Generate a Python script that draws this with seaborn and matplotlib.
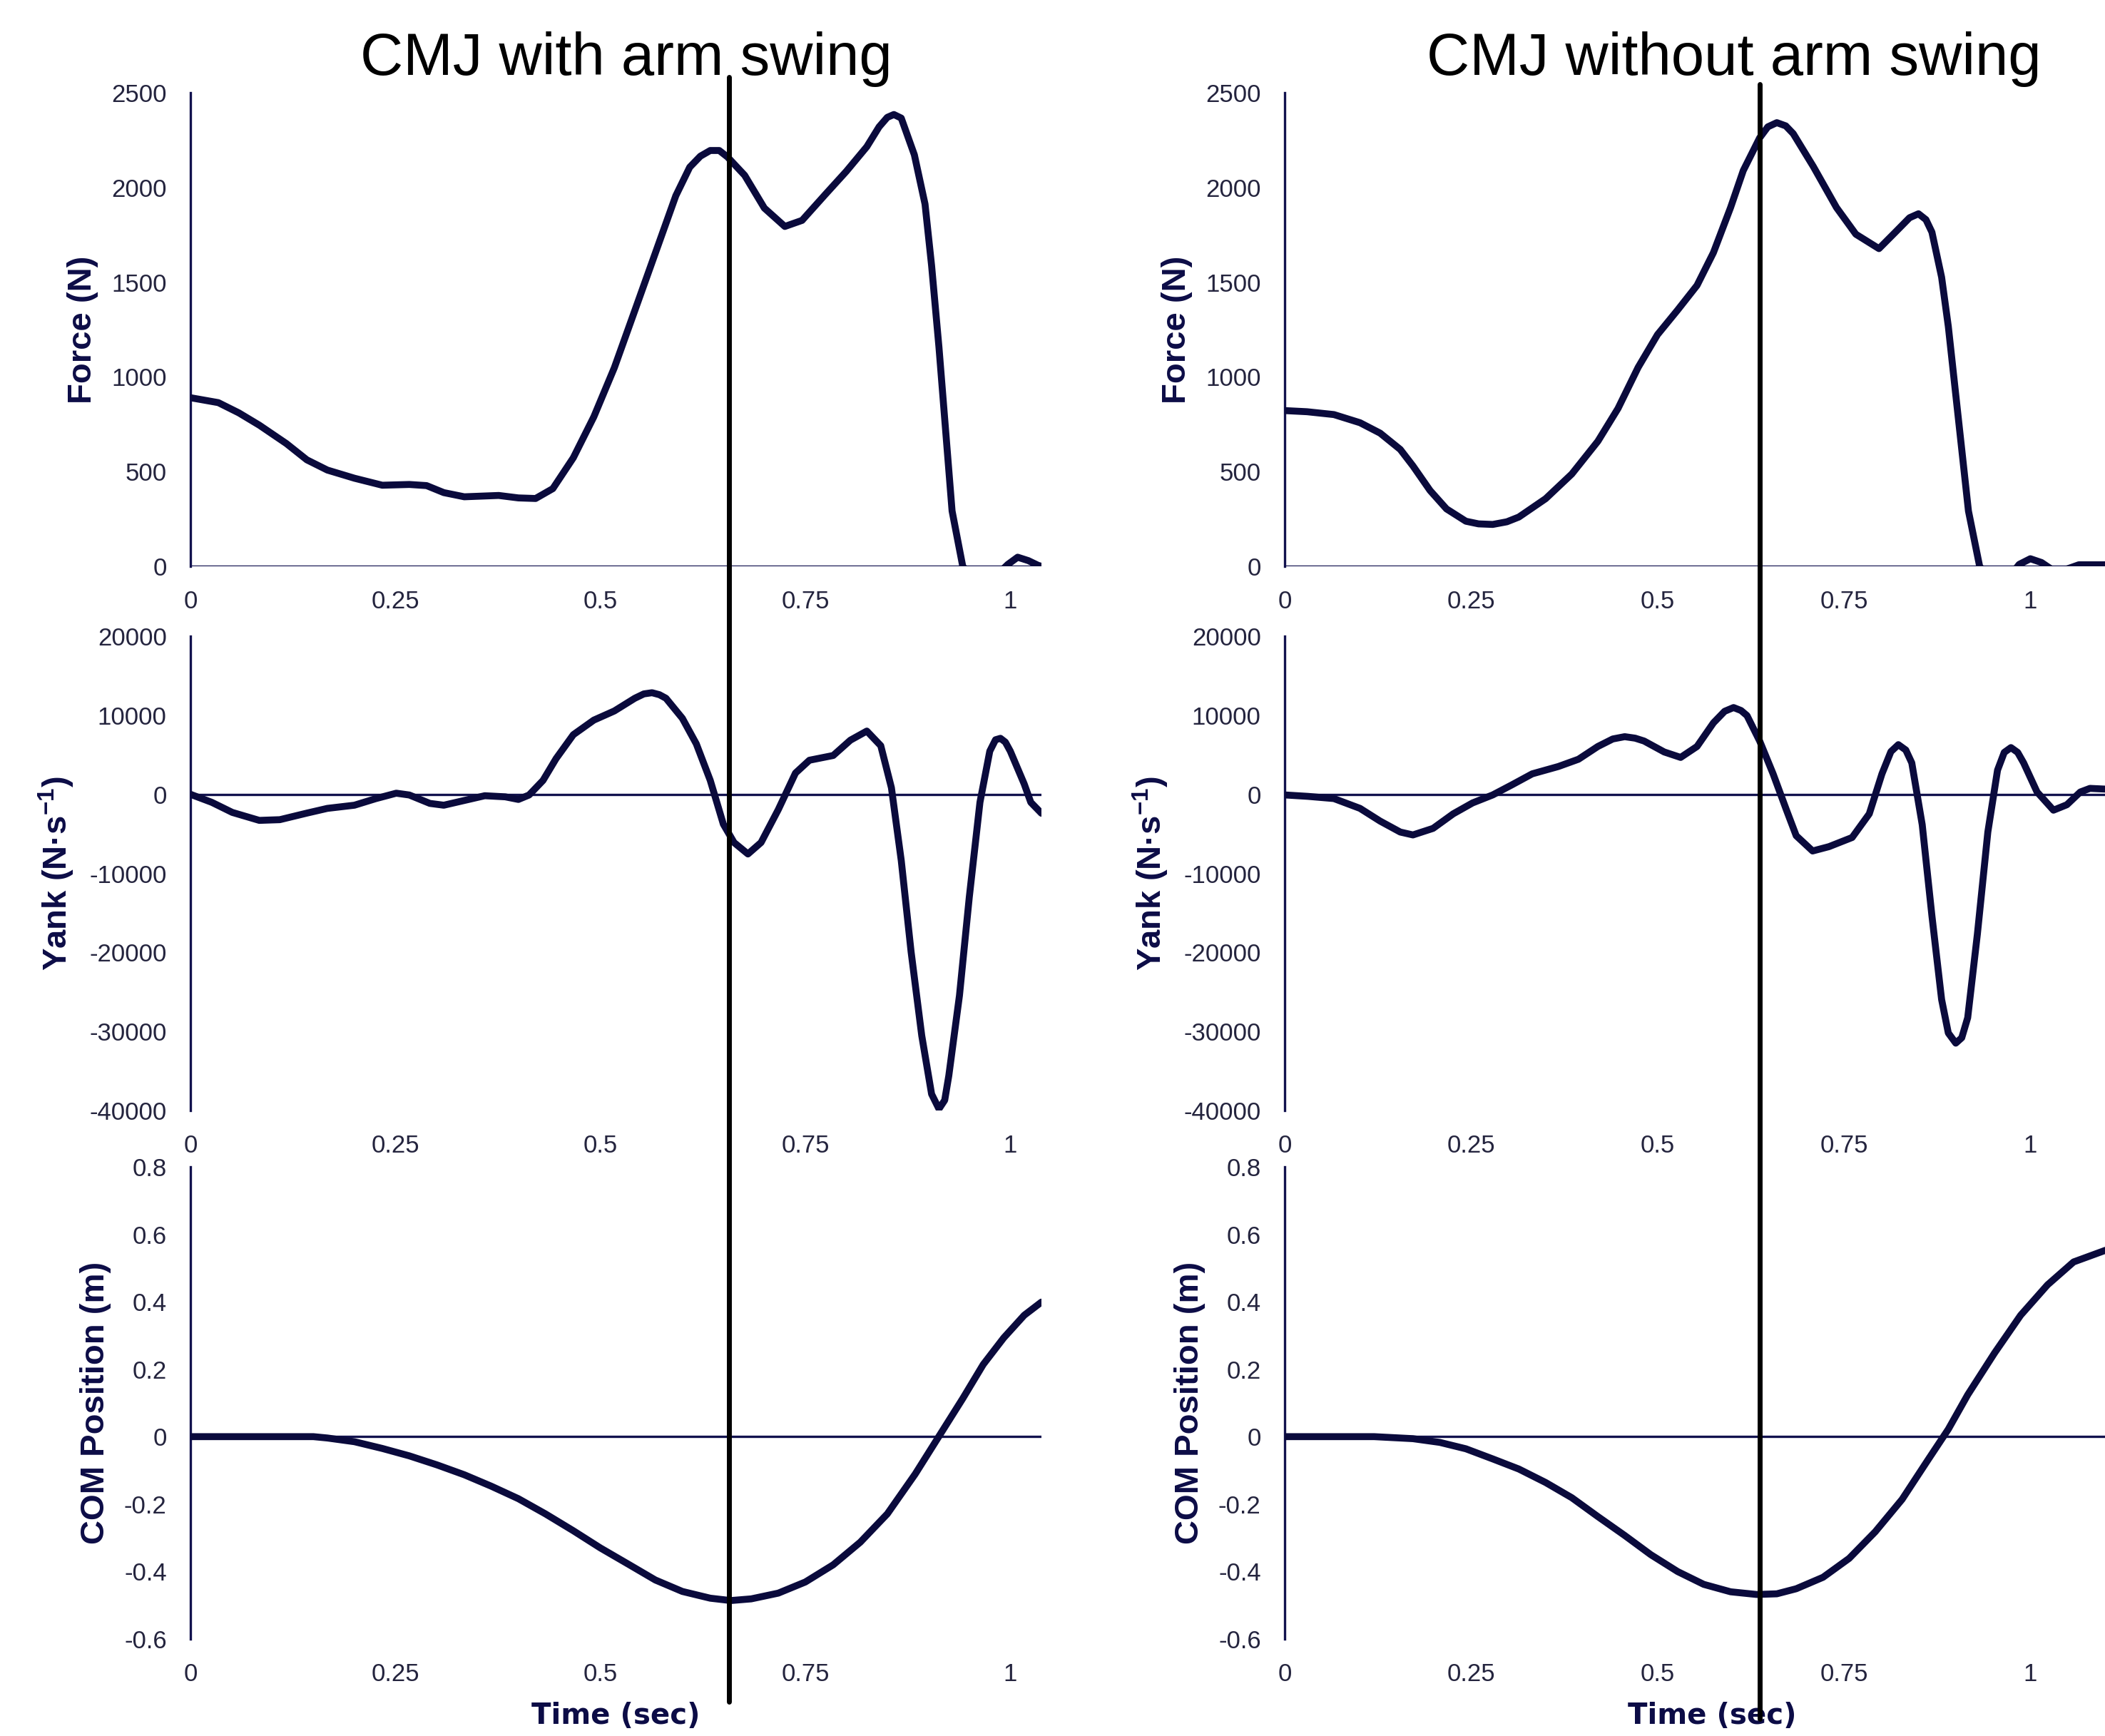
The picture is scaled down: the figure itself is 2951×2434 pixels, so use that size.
import matplotlib
matplotlib.use("Agg")
import matplotlib.pyplot as plt
import matplotlib.transforms as mtransforms
from matplotlib.lines import Line2D
from matplotlib.ticker import FormatStrFormatter
import seaborn as sns

# ---- CMJ with arm swing ----
t_force_arm = [0, .034, .059, .084, .117, .142, .167, .2, .234, .267, .288, .309, .334, .376,
               .4, .421, .442, .467, .492, .517, .542, .567, .592, .609, .622, .634, .645, .655,
               .676, .7, .725, .746, .775, .8, .825, .84, .85, .858, .867, .883, .896, .904, .913,
               .921, .929, .942, .95, .985, .997, 1.009, 1.022, 1.034, 1.038]
force_arm = [890, 864, 810, 745, 648, 562, 508, 465, 428, 432, 426, 389, 367, 374,
             361, 358, 410, 573, 789, 1048, 1350, 1653, 1956, 2107, 2165, 2195, 2195, 2161,
             2064, 1891, 1794, 1826, 1966, 2085, 2215, 2320, 2370, 2385, 2366, 2172, 1912, 1588, 1156,
             724, 292, 0, -40, -40, 10, 48, 30, 5, 0]

t_yank_arm = [0, .026, .051, .084, .109, .142, .167, .2, .226, .251, .267, .292, .309, .334,
              .359, .384, .4, .413, .43, .446, .467, .492, .517, .542, .553, .563, .572, .58, .6,
              .617, .634, .65, .663, .68, .696, .717, .738, .755, .784, .805, .825, .842, .855,
              .867, .879, .892, .904, .913, .92, .925, .938, .95, .963, .975, .982, .988, .994,
              1.0, 1.017, 1.025, 1.038]
yank_arm = [0, -1015, -2290, -3300, -3210, -2380, -1780, -1380, -550, 140, -90, -1150, -1380, -780,
            -180, -320, -650, -90, 1750, 4520, 7540, 9385, 10540, 12150, 12700, 12850, 12600, 12150,
            9615, 6385, 1770, -3780, -6100, -7550, -6100, -1940, 2690, 4310, 4910, 6850, 8000, 6150,
            830, -8380, -19920, -30530, -37920, -39800, -38700, -35600, -25460, -13000, -1015, 5460,
            6900, 7080, 6600, 5460, 1300, -1015, -2400]

t_com_arm = [0, .05, .1, .15, .167, .2, .234, .267, .301, .334, .367, .4, .433, .467, .5, .534,
             .567, .6, .634, .659, .684, .717, .75, .784, .817, .85, .884, .913, .942, .967,
             .992, 1.017, 1.038]
com_arm = [0, 0, 0, 0, -0.004, -0.015, -0.035, -0.057, -0.084, -0.113, -0.147, -0.184, -0.229,
           -0.279, -0.330, -0.378, -0.425, -0.459, -0.479, -0.486, -0.481, -0.464, -0.431, -0.380,
           -0.313, -0.229, -0.111, 0.001, 0.113, 0.214, 0.293, 0.360, 0.399]

# ---- CMJ without arm swing ----
t_force_noarm = [0, .03, .066, .101, .128, .155, .172, .195, .217, .243, .26, .279, .298, .314,
                 .35, .385, .42, .447, .474, .5, .527, .553, .575, .598, .615, .637, .648, .66,
                 .672, .682, .709, .74, .766, .797, .819, .838, .85, .86, .868, .881, .89, .899,
                 .908, .917, .932, .94, .975, .985, 1.0, 1.015, 1.03, 1.045, 1.065, 1.10, 1.15]
force_noarm = [822, 816, 801, 758, 703, 617, 530, 400, 303, 238, 224, 221, 235, 260,
               357, 487, 660, 833, 1050, 1223, 1353, 1483, 1656, 1894, 2089, 2262, 2320, 2342,
               2325, 2284, 2110, 1894, 1753, 1677, 1764, 1840, 1861, 1830, 1764, 1526, 1266, 941,
               617, 292, 0, -40, -40, 10, 40, 20, -20, -20, 8, 8, 8]

t_yank_noarm = [0, .031, .066, .101, .128, .155, .172, .199, .226, .252, .279, .305, .332, .367,
                .394, .42, .44, .456, .47, .482, .509, .531, .553, .575, .59, .602, .612, .62,
                .637, .655, .673, .686, .708, .73, .761, .784, .801, .813, .823, .833, .841, .855,
                .868, .881, .89, .9, .908, .916, .929, .943, .956, .965, .974, .983, .991, 1.009,
                1.031, 1.049, 1.067, 1.08, 1.10, 1.15]
yank_noarm = [-80, -260, -540, -1780, -3390, -4775, -5140, -4310, -2470, -1090, -80, 1210, 2590, 3515,
              4435, 6050, 7000, 7290, 7100, 6740, 5355, 4665, 6050, 9040, 10500, 10975, 10600, 9960,
              6740, 2590, -2010, -5240, -7170, -6620, -5465, -2470, 2590, 5400, 6280, 5600, 3975,
              -3850, -15370, -25960, -30200, -31480, -30800, -28260, -17670, -4775, 3055, 5300, 5910,
              5300, 3975, 290, -2010, -1320, 290, 750, 660, 500]

t_com_noarm = [0, .05, .1, .12, .172, .208, .243, .279, .314, .35, .385, .42, .456, .491, .527,
               .562, .598, .633, .66, .686, .722, .757, .792, .828, .863, .89, .916, .952, .987,
               1.023, 1.058, 1.10, 1.125, 1.15]
com_noarm = [0, 0, 0, 0, -0.006, -0.017, -0.036, -0.066, -0.096, -0.136, -0.181, -0.237, -0.293,
             -0.350, -0.400, -0.438, -0.460, -0.468, -0.466, -0.451, -0.417, -0.361, -0.282, -0.186,
             -0.068, 0.022, 0.124, 0.248, 0.36, 0.45, 0.518, 0.552, 0.57, 0.585]

event_times = [0.657, 0.637]
titles = ["CMJ with arm swing", "CMJ without arm swing"]

x_ticks = [0, 0.25, 0.5, 0.75, 1]
force_ticks = [0, 500, 1000, 1500, 2000, 2500]
yank_ticks = [-40000, -30000, -20000, -10000, 0, 10000, 20000]
com_ticks = [-0.6, -0.4, -0.2, 0, 0.2, 0.4, 0.6, 0.8]

# ---- style ----
sns.set_theme(style="white")
plt.rcParams['font.family'] = ['Liberation Sans', 'DejaVu Sans']
plt.rcParams['mathtext.fontset'] = 'custom'
plt.rcParams['mathtext.rm'] = 'Liberation Sans'
plt.rcParams['mathtext.bf'] = 'Liberation Sans:bold'
plt.rcParams['mathtext.default'] = 'bf'
plt.rcParams['axes.unicode_minus'] = False
plt.rcParams['lines.solid_joinstyle'] = 'round'
plt.rcParams['lines.solid_capstyle'] = 'round'

CURVE = '#0a0a3c'
AXIS = '#12124e'
TICK = '#24243e'
LABEL = '#0c0c46'

W, H = 2951, 2434
fig = plt.figure(figsize=(W / 100, H / 100), dpi=100)
fig.patch.set_facecolor('white')

# pixel layout of the two columns (left edge, width, x max)
columns = [
    dict(left=267, width=1193, xmax=1.038),
    dict(left=1801, width=1199, xmax=1.147),
]
# pixel layout of rows (top, bottom)
rows = [(130, 794), (892, 1557), (1636, 2298)]

series = [
    [(t_force_arm, force_arm), (t_yank_arm, yank_arm), (t_com_arm, com_arm)],
    [(t_force_noarm, force_noarm), (t_yank_noarm, yank_noarm), (t_com_noarm, com_noarm)],
]
ylims = [(0, 2500), (-40000, 20000), (-0.6, 0.8)]
yticks = [force_ticks, yank_ticks, com_ticks]
ylabels = ['Force (N)', r'Yank (N·s$^{-1}$)', 'COM Position (m)']
yfmt = ['%d', '%d', '%g']
title_x = [878, 2431]

for c, col in enumerate(columns):
    axes = []
    for r, (top, bot) in enumerate(rows):
        ax = fig.add_axes([col['left'] / W, 1 - bot / H, col['width'] / W, (bot - top) / H])
        ax.set_facecolor('none')
        t, v = series[c][r]
        ax.axhline(0, color=AXIS, lw=2.4, zorder=1)
        sns.lineplot(x=t, y=v, ax=ax, color=CURVE, linewidth=7, estimator=None,
                     sort=False, zorder=3)
        ax.set_xlim(0, col['xmax'])
        ax.set_ylim(*ylims[r])
        ax.set_xticks(x_ticks)
        ax.set_yticks(yticks[r])
        ax.xaxis.set_major_formatter(FormatStrFormatter('%g'))
        ax.yaxis.set_major_formatter(FormatStrFormatter(yfmt[r]))
        ax.tick_params(axis='both', length=0, pad=24, labelsize=25, labelcolor=TICK)
        for s in ['top', 'right', 'bottom']:
            ax.spines[s].set_visible(False)
        ax.spines['left'].set_color(AXIS)
        ax.spines['left'].set_linewidth(2.4)
        ax.set_ylabel(ylabels[r], fontsize=34, fontweight='bold', color=LABEL, labelpad=13)
        ax.set_xlabel('')
        axes.append(ax)

    ax_com = axes[-1]
    ax_com.set_xlabel('Time (sec)', fontsize=29, fontweight='bold', color=LABEL,
                      family='DejaVu Sans')
    ax_com.xaxis.set_label_coords(0.5, -0.133)

    # event marker spanning the whole column
    y_top = 1 - (108 if c == 0 else 118) / H
    y_bot = 1 - (2386 if c == 0 else 2410) / H
    trans = mtransforms.blended_transform_factory(ax_com.transData, fig.transFigure)
    fig.add_artist(Line2D([event_times[c], event_times[c]], [y_top, y_bot],
                          transform=trans, color='black', lw=5, zorder=10))

    fig.text(title_x[c] / W, 1 - 105 / H, titles[c], ha='center', va='baseline',
             fontsize=60, color='black')

fig.savefig('out.png', dpi=100, facecolor='white')
